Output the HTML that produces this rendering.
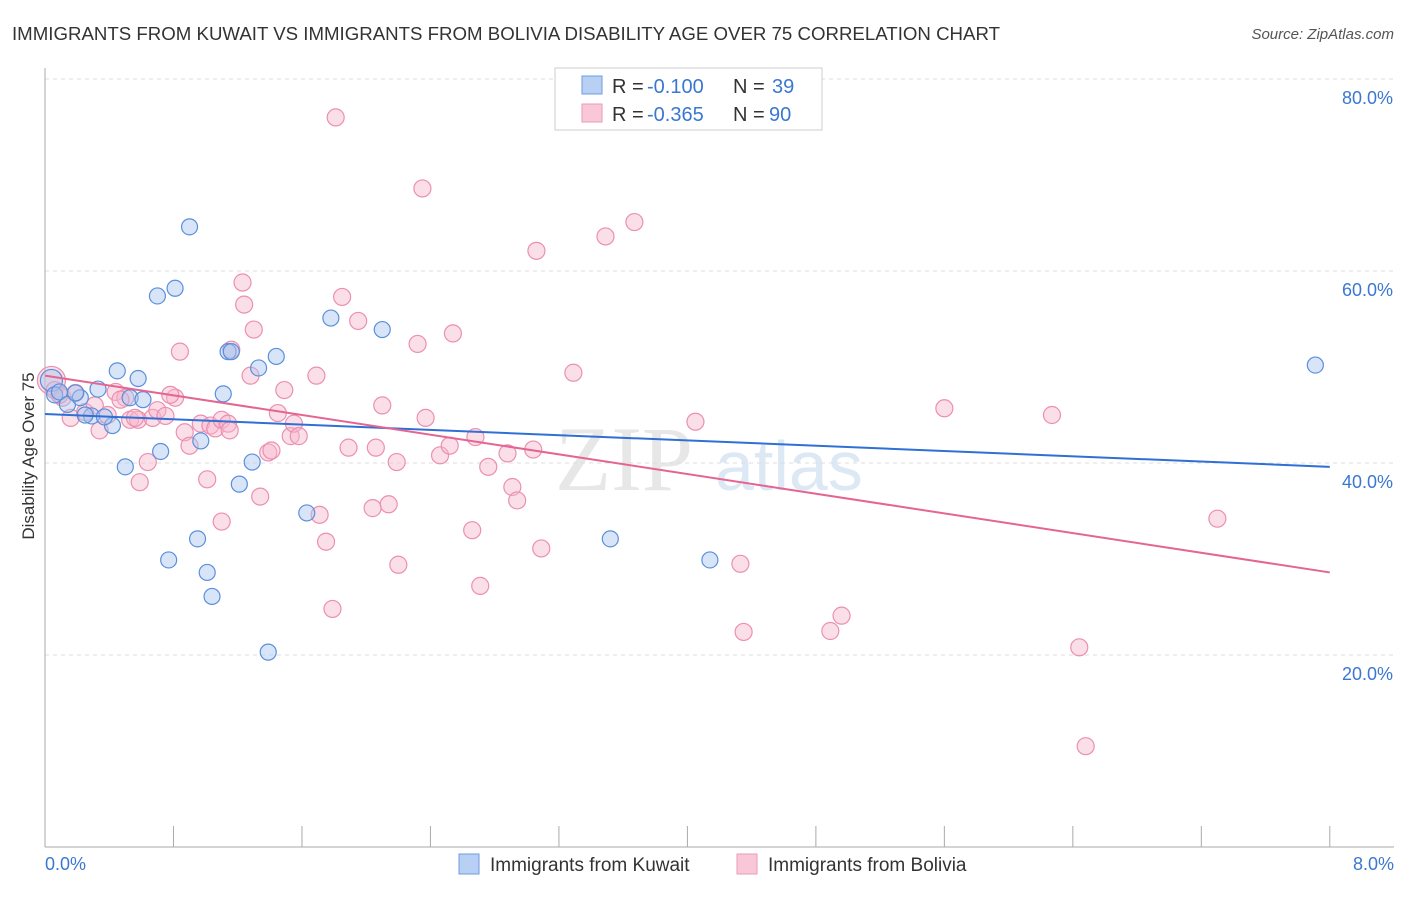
<!DOCTYPE html>
<html><head><meta charset="utf-8"><style>
body{margin:0;background:#fff;font-family:"Liberation Sans",sans-serif}
</style></head><body>
<svg id="chart" width="1406" height="892" xmlns="http://www.w3.org/2000/svg" font-family="Liberation Sans, sans-serif">
<text x="12" y="40" font-size="18" fill="#333" textLength="988" lengthAdjust="spacingAndGlyphs">IMMIGRANTS FROM KUWAIT VS IMMIGRANTS FROM BOLIVIA DISABILITY AGE OVER 75 CORRELATION CHART</text>
<text x="1394" y="39" font-size="15" fill="#555" text-anchor="end" font-style="italic">Source: ZipAtlas.com</text>
<text x="555" y="490" font-size="92" fill="#ddd" font-family="Liberation Serif, serif" opacity="0.7">ZIP</text>
<text x="715" y="490" font-size="70" fill="#c8daf0" opacity="0.6">atlas</text>
<g id="grid"></g><g id="axes"></g><g id="pink"></g><g id="blue"></g><g id="lines"></g>
<text transform="translate(34,456) rotate(-90)" font-size="17" fill="#333" text-anchor="middle">Disability Age Over 75</text>
<text x="45" y="870" font-size="18" fill="#3a78d0">0.0%</text>
<text x="1394" y="870" font-size="18" fill="#3a78d0" text-anchor="end">8.0%</text>
<g>
<rect x="555" y="68" width="267" height="62" fill="#fff" stroke="#ccc"/>
<rect x="582" y="76" width="20" height="18" fill="#b8d0f3" stroke="#6d9de0"/>
<rect x="582" y="104" width="20" height="18" fill="#f9c8d8" stroke="#ec9ab5"/>
<text x="612" y="93" font-size="20" fill="#333">R =</text>
<text x="647" y="93" font-size="20" fill="#3a78d0">-0.100</text>
<text x="733" y="93" font-size="20" fill="#333">N =</text>
<text x="772" y="93" font-size="20" fill="#3a78d0">39</text>
<text x="612" y="121" font-size="20" fill="#333">R =</text>
<text x="647" y="121" font-size="20" fill="#3a78d0">-0.365</text>
<text x="733" y="121" font-size="20" fill="#333">N =</text>
<text x="769" y="121" font-size="20" fill="#3a78d0">90</text>
</g>
<g>
<rect x="459" y="854" width="20" height="20" fill="#b8d0f3" stroke="#6d9de0"/>
<text x="490" y="871" font-size="19" fill="#333">Immigrants from Kuwait</text>
<rect x="737" y="854" width="20" height="20" fill="#f9c8d8" stroke="#ec9ab5"/>
<text x="768" y="871" font-size="19" fill="#333">Immigrants from Bolivia</text>
</g>
</svg>
<script>
const yTicks=[20,40,60,80];
const yTickLabels=["20.0%","40.0%","60.0%","80.0%"];
const xTicks=[0,0.8,1.6,2.4,3.2,4,4.8,5.6,6.4,7.2,8];
const kuwaitX=[0.04,0.06,0.09,0.14,0.22,0.29,0.33,0.42,0.37,0.45,0.58,0.53,0.61,0.5,0.72,0.7,0.81,0.9,0.77,0.95,1.01,1.04,0.97,1.11,1.14,1.16,1.33,1.44,1.21,1.29,1.39,1.63,1.78,2.1,3.52,4.14,7.91,0.25,0.19];
const kuwaitY=[48.6,47.1,47.4,46.1,46.8,44.9,47.7,43.9,44.8,49.6,48.8,46.8,46.6,39.6,41.2,57.4,58.2,64.6,29.9,32.1,28.6,26.1,42.3,47.2,51.6,51.6,49.9,51.1,37.8,40.1,20.3,34.8,55.1,53.9,32.1,29.9,50.2,45.0,47.3];
const boliviaX=[0.04,0.06,0.11,0.16,0.19,0.25,0.31,0.34,0.39,0.44,0.50,0.53,0.58,0.59,0.64,0.67,0.70,0.75,0.81,0.84,0.87,0.90,0.97,1.01,1.03,1.06,1.10,1.10,1.14,1.16,1.23,1.24,1.28,1.30,1.34,1.39,1.41,1.45,1.49,1.53,1.55,1.58,1.69,1.71,1.75,1.79,1.81,1.85,1.89,1.95,2.04,2.06,2.10,2.14,2.19,2.20,2.32,2.35,2.37,2.46,2.52,2.54,2.66,2.68,2.71,2.76,2.91,2.94,2.88,3.04,3.06,3.09,3.29,3.49,3.67,4.05,4.33,4.35,4.89,4.96,5.60,6.27,6.44,6.48,7.30,0.09,0.47,0.56,0.78,1.15];
const boliviaY=[48.6,47.6,46.8,44.7,47.3,45.3,46.0,43.4,45.0,47.4,46.8,44.5,44.5,38.0,40.1,44.7,45.5,44.9,46.8,51.6,43.2,41.8,44.1,38.3,43.9,43.6,33.9,44.5,44.1,51.8,58.8,56.5,49.1,53.9,36.5,41.1,41.3,45.2,47.6,42.8,44.1,42.8,49.1,34.6,31.8,24.8,76.0,57.3,41.6,54.8,35.3,41.6,46.0,35.7,40.1,29.4,52.4,68.6,44.7,40.8,41.8,53.5,33.0,42.7,27.2,39.6,37.5,36.1,41.0,41.4,62.1,31.1,49.4,63.6,65.1,44.3,29.5,22.4,22.5,24.1,45.7,45.0,20.8,10.5,34.2,47.1,46.6,44.7,47.1,43.4];
const kuwaitTrend=[45.1,39.6];
const boliviaTrend=[49.1,28.6];
const X=v=>45+v*160.6, Y=v=>847-v*9.6;
const NS="http://www.w3.org/2000/svg";
function mk(p,t,a){const e=document.createElementNS(NS,t);for(const k in a)e.setAttribute(k,a[k]);document.getElementById(p).appendChild(e);return e;}
yTicks.forEach((t,i)=>{
 const g=mk('grid','line',{x1:45,x2:1394,y1:Y(t),y2:Y(t),stroke:'#ddd','stroke-dasharray':'4,4'});
 
 
 const l=mk('grid','text',{x:1393,y:Y(t)+25,'font-size':18,fill:'#3a78d0','text-anchor':'end'});
 l.textContent=yTickLabels[i];
 
 
});
const ax=mk('axes','line',{x1:45,x2:45,y1:68,y2:847,stroke:'#aaa'});


const bx=mk('axes','line',{x1:45,x2:1394,y1:847,y2:847,stroke:'#aaa'});


xTicks.forEach(t=>{
 const e=mk('axes','line',{x1:X(t),x2:X(t),y1:826,y2:847,stroke:'#aaa'});
 
 
});
boliviaX.forEach((x,i)=>{
 const r=i==0?14:8.5;
 const c=mk('pink','circle',{cx:X(x),cy:Y(boliviaY[i]),r:r,fill:'#f6b8cc','fill-opacity':0.45,stroke:'#ec8fb0','stroke-width':1.2});
 
 
});
kuwaitX.forEach((x,i)=>{
 const r=i==0?11:8;
 const c=mk('blue','circle',{cx:X(x),cy:Y(kuwaitY[i]),r:r,fill:'#a9c6f0','fill-opacity':0.45,stroke:'#5a8fdc','stroke-width':1.2});
 
 
});
const lb=mk('lines','line',{x1:X(0),x2:X(8),y1:Y(kuwaitTrend[0]),y2:Y(kuwaitTrend[1]),stroke:'#2f6fd6','stroke-width':2});


const lp=mk('lines','line',{x1:X(0),x2:X(8),y1:Y(boliviaTrend[0]),y2:Y(boliviaTrend[1]),stroke:'#e56592','stroke-width':2});


</script>
</body></html>
